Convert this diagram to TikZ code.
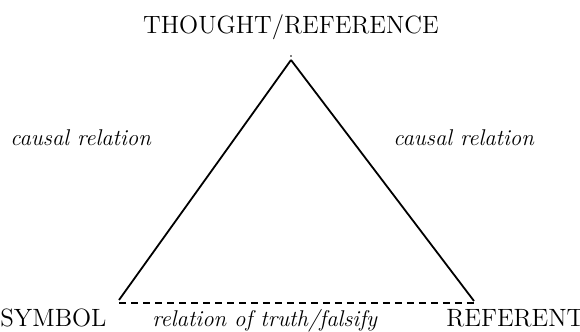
\documentclass[tikz,border=0pt]{standalone}
\begin{document}
\begin{tikzpicture}[x=0.5pt,y=-0.5pt,
  lbl/.style={inner sep=0pt, font=\fontsize{12.5}{14}\selectfont},
  itlbl/.style={inner sep=0pt, font=\fontsize{11.4}{13}\selectfont\itshape},
  edge/.style={line width=0.9pt, line cap=butt},
  dashedge/.style={line width=0.8pt, dash pattern=on 3.6pt off 2.4pt}]
\useasboundingbox (0,0) rectangle (580,332);
\coordinate (apex) at (291,60);
\coordinate (bl) at (119,300);
\coordinate (br) at (474,301);
\coordinate (dl) at (119,303);
\coordinate (dr) at (474,303);
\node[lbl, anchor=base] (top) at (291,33) {THOUGHT/REFERENCE};
\node[itlbl, anchor=base west] (lc) at (10,146) {causal relation};
\node[itlbl, anchor=base west] (rc) at (393,146) {causal relation};
\node[lbl, anchor=base west] (sym) at (0,326) {SYMBOL};
\node[itlbl, anchor=base west] (rel) at (152,326) {relation of truth/falsify};
\node[lbl, anchor=base west] (ref) at (446,326) {REFERENT};
\fill (291,56) circle (0.45pt);
\draw[edge] (apex) -- (bl);
\draw[edge] (apex) -- (br);
\draw[dashedge] (dl) -- (dr);
\end{tikzpicture}
\end{document}
